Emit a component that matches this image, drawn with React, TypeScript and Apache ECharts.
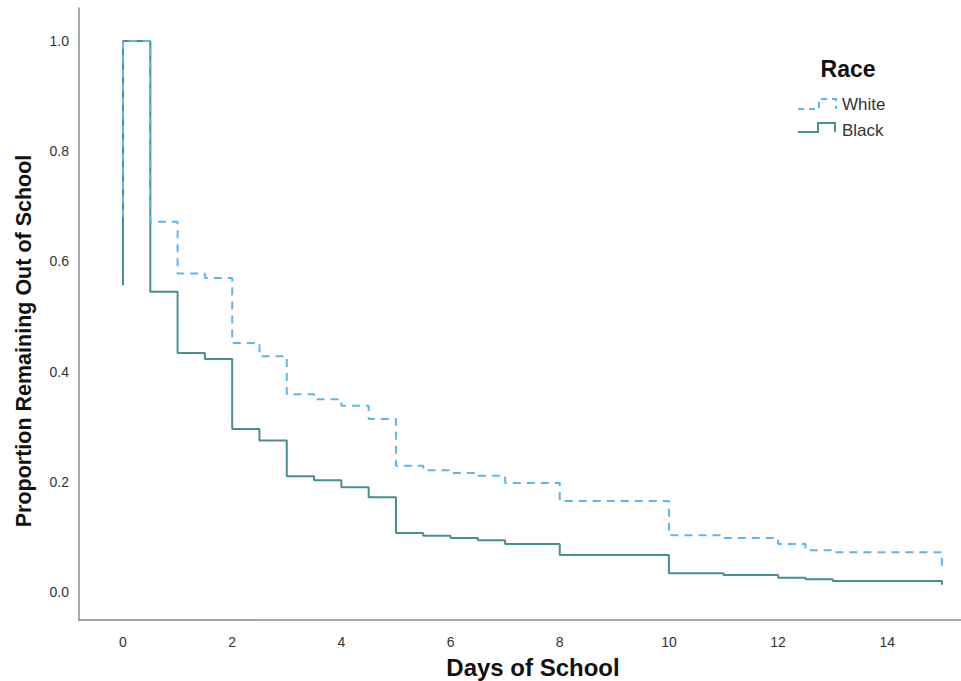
import React, { useEffect, useRef } from "react";
import * as echarts from "echarts";

const whiteTimes = [0, 0, 0.5, 1, 1.5, 2, 2.5, 3, 3.5, 4, 4.5, 5, 5.5, 6, 6.5, 7, 8, 10, 11, 12, 12.5, 13, 15];
const whiteValues = [0.68, 1.0, 0.672, 0.578, 0.57, 0.452, 0.428, 0.359, 0.35, 0.338, 0.314, 0.229, 0.221, 0.216, 0.211, 0.198, 0.165, 0.103, 0.098, 0.087, 0.076, 0.072, 0.044];

const blackTimes = [0, 0, 0.5, 1, 1.5, 2, 2.5, 3, 3.5, 4, 4.5, 5, 5.5, 6, 6.5, 7, 8, 10, 11, 12, 12.5, 13, 15];
const blackValues = [0.557, 1.0, 0.545, 0.434, 0.423, 0.296, 0.275, 0.21, 0.203, 0.19, 0.172, 0.107, 0.102, 0.098, 0.094, 0.087, 0.067, 0.034, 0.031, 0.026, 0.023, 0.02, 0.013];

const xTicks = [0, 2, 4, 6, 8, 10, 12, 14];
const yTicks = [0, 0.2, 0.4, 0.6, 0.8, 1.0];

const legendTitle = "Race";
const groupNames = ["White", "Black"];

const WHITE_COLOR = "#5cb6f2";
const BLACK_COLOR = "#4a8f8f";
const FONT = "Liberation Sans, Arial, sans-serif";

export default function App() {
  const ref = useRef<HTMLDivElement>(null);
  useEffect(() => {
    if (!ref.current) return;
    const chart = echarts.init(ref.current, undefined, { renderer: "svg" });
    const zip = (t: number[], v: number[]) => t.map((x, i) => [x, v[i]]);
    chart.setOption({
      animation: false,
      backgroundColor: "#ffffff",
      grid: { left: 79, right: 0, top: 8, bottom: 61 },
      xAxis: {
        type: "value",
        min: -0.806,
        max: 15.35,
        axisLine: { show: true, onZero: false, lineStyle: { color: "#8c8c8c", width: 1.5 } },
        axisTick: { show: false },
        splitLine: { show: false },
        axisLabel: {
          customValues: xTicks,
          color: "#333",
          fontSize: 14,
          fontFamily: FONT,
          margin: 15,
          formatter: (v: number) => String(v),
        },
      },
      yAxis: {
        type: "value",
        min: -0.0508,
        max: 1.06,
        axisLine: { show: true, onZero: false, lineStyle: { color: "#8c8c8c", width: 1.5 } },
        axisTick: { show: false },
        splitLine: { show: false },
        axisLabel: {
          customValues: yTicks,
          color: "#333",
          fontSize: 14,
          fontFamily: FONT,
          margin: 10,
          formatter: (v: number) => v.toFixed(1),
        },
      },
      series: [
        {
          name: groupNames[1],
          type: "line",
          step: "end",
          data: zip(blackTimes, blackValues),
          symbol: "none",
          lineStyle: { color: BLACK_COLOR, width: 2 },
          itemStyle: { color: BLACK_COLOR },
        },
        {
          name: groupNames[0],
          type: "line",
          step: "end",
          data: zip(whiteTimes, whiteValues),
          symbol: "none",
          lineStyle: { color: WHITE_COLOR, width: 2, type: [8, 6] },
          itemStyle: { color: WHITE_COLOR },
        },
      ],
      graphic: [
        {
          type: "text",
          x: 24,
          y: 341,
          rotation: Math.PI / 2,
          style: {
            text: "Proportion Remaining Out of School",
            fontFamily: FONT,
            fontWeight: "bold",
            fontSize: 21.5,
            fill: "#111",
            align: "center",
            verticalAlign: "middle",
          },
        },
        {
          type: "text",
          x: 533,
          y: 667,
          style: {
            text: "Days of School",
            fontFamily: FONT,
            fontWeight: "bold",
            fontSize: 24,
            fill: "#111",
            align: "center",
            verticalAlign: "middle",
          },
        },
        {
          type: "text",
          x: 848,
          y: 69,
          style: {
            text: legendTitle,
            fontFamily: FONT,
            fontWeight: "bold",
            fontSize: 23,
            fill: "#111",
            align: "center",
            verticalAlign: "middle",
          },
        },
        {
          type: "polyline",
          shape: { points: [[798, 109], [819, 109], [819, 99], [836, 99], [836, 109]] },
          style: { stroke: WHITE_COLOR, lineWidth: 2, lineDash: [6, 5], fill: null },
        },
        {
          type: "text",
          x: 842,
          y: 104,
          style: {
            text: groupNames[0],
            fontFamily: FONT,
            fontSize: 17,
            fill: "#333",
            align: "left",
            verticalAlign: "middle",
          },
        },
        {
          type: "polyline",
          shape: { points: [[798, 132], [818, 132], [818, 123], [835, 123], [835, 132]] },
          style: { stroke: BLACK_COLOR, lineWidth: 2, fill: null },
        },
        {
          type: "text",
          x: 842,
          y: 130,
          style: {
            text: groupNames[1],
            fontFamily: FONT,
            fontSize: 17,
            fill: "#333",
            align: "left",
            verticalAlign: "middle",
          },
        },
      ],
    });
    return () => chart.dispose();
  }, []);
  return (
    <div
      ref={ref}
      style={{ position: "absolute", left: 0, top: 0, width: 961, height: 681, background: "#fff" }}
    />
  );
}
